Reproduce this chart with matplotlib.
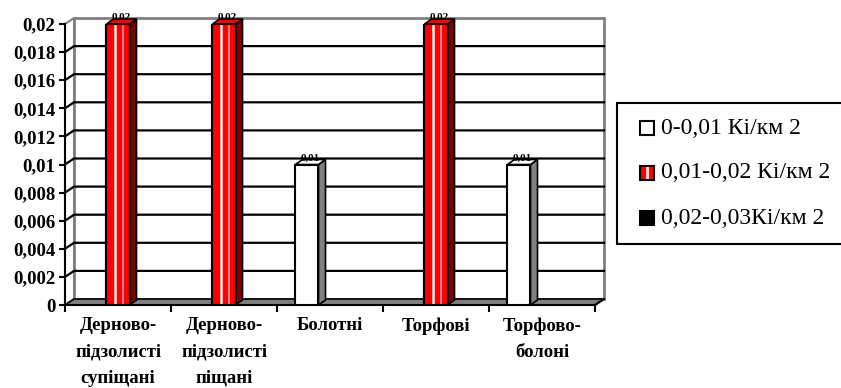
import matplotlib
matplotlib.use("Agg")
import matplotlib.pyplot as plt
from matplotlib import font_manager
from matplotlib.font_manager import FontProperties
from matplotlib.patches import Polygon, Rectangle
import numpy as np

# data
categories = ["Дерново-\nпідзолисті\nсупіщані", "Дерново-\nпідзолисті\nпіщані",
              "Болотні", "Торфові", "Торфово-\nболоні"]
series_names = ["0-0,01 Кі/км 2", "0,01-0,02 Кі/км 2", "0,02-0,03Кі/км 2"]
vals_low = [0, 0, 0.01, 0, 0.01]
vals_mid = [0.02, 0.02, 0, 0.02, 0]
vals_high = [0, 0, 0, 0, 0]
yticks = np.arange(0, 0.0201, 0.002)
ytick_labels = ["0", "0,002", "0,004", "0,006", "0,008", "0,01",
                "0,012", "0,014", "0,016", "0,018", "0,02"]

# find liberation serif files directly
def font_file(fname_end):
    for f in font_manager.fontManager.ttflist:
        if f.fname.endswith(fname_end):
            return f.fname
    return None

reg_path = font_file("LiberationSerif-Regular.ttf")
bold_path = font_file("LiberationSerif-Bold.ttf")

def fp(size, bold=False):
    p = bold_path if bold else reg_path
    if p:
        return FontProperties(fname=p, size=size)
    return FontProperties(family='serif', size=size, weight='bold' if bold else 'normal')

fig = plt.figure(figsize=(8.41, 3.88), dpi=100)
ax = fig.add_axes([65/841, 83/388, 530/841, 281/388])
ax.set_xlim(-0.5, 4.5)
ax.set_ylim(0, 0.02)

# pixel -> data sizes for the fake 3d depth
pxx = 5/530.0
pxy = 0.02/281.0
wdx, wdy = 9*pxx, 6*pxy      # wall depth
bdx, bdy = 7*pxx, 5*pxy      # bar depth

x0, x1 = -0.5, 4.5
# back wall + left wall
ax.add_patch(Rectangle((x0+wdx, wdy), x1-x0, 0.02, fc='white', ec='#808080', lw=2, zorder=0, clip_on=False))
ax.add_patch(Polygon([(x0, 0), (x0+wdx, wdy), (x0+wdx, 0.02+wdy), (x0, 0.02)], closed=True,
                     fc='white', ec='#808080', lw=1.5, zorder=0, clip_on=False))
# gridlines
for yv in yticks[1:-1]:
    ax.plot([x0, x0+wdx, x1+wdx], [yv, yv+wdy, yv+wdy], color='black', lw=1.6, zorder=1, clip_on=False)
# floor
ax.add_patch(Polygon([(x0, 0), (x1, 0), (x1+wdx, wdy), (x0+wdx, wdy)], closed=True,
                     fc='#808080', ec='black', lw=1.2, zorder=1, clip_on=False))

x = np.arange(len(categories))
w = 0.217
series = [vals_low, vals_mid, vals_high]
fronts = ['white', '#ff0000', 'black']
sides = ['#808080', '#800000', '#202020']
for i, vals in enumerate(series):
    xs = x + (i-1)*w
    v = np.array(vals)
    keep = v > 0
    ax.bar(xs[keep], v[keep], width=w, color=fronts[i], edgecolor='black', lw=1.5, zorder=3)
    if i == 1:
        # light stripes on red bars
        ax.bar(xs[keep]-0.12*w, v[keep], width=0.14*w, color='#ffb0b0', lw=0, zorder=3.1)
        ax.bar(xs[keep]-0.12*w, v[keep], width=0.05*w, color='white', lw=0, zorder=3.2)
        ax.bar(xs[keep]+0.2*w, v[keep], width=0.08*w, color='#ff8080', lw=0, zorder=3.1)
        ax.bar(xs[keep], v[keep], width=w, fill=False, edgecolor='black', lw=1.5, zorder=3.3)
    for xc, vv in zip(xs[keep], v[keep]):
        r = xc + w/2
        l = xc - w/2
        ax.add_patch(Polygon([(r, 0), (r+bdx, bdy), (r+bdx, vv+bdy), (r, vv)], closed=True,
                             fc=sides[i], ec='black', lw=1.2, zorder=2.9, clip_on=False))
        ax.add_patch(Polygon([(l, vv), (r, vv), (r+bdx, vv+bdy), (l+bdx, vv+bdy)], closed=True,
                             fc=fronts[i], ec='black', lw=1.2, zorder=3.4, clip_on=False))
        ax.text(xc+bdx/2, vv+bdy-3*pxy, ("%.2f" % vv).replace('.', ','), ha='center', va='bottom',
                fontproperties=fp(8, True), zorder=5, clip_on=False)

# axes
for s in ['top', 'right']:
    ax.spines[s].set_visible(False)
ax.spines['left'].set_linewidth(1.5)
ax.spines['bottom'].set_linewidth(1.5)
ax.plot([x1, x1+wdx], [0, wdy], color='black', lw=1.5, zorder=2, clip_on=False)
ax.set_yticks(yticks)
ax.set_yticklabels(ytick_labels)
for t in ax.get_yticklabels():
    t.set_fontproperties(fp(13.5, True))
ax.tick_params(axis='y', length=4, width=1.5, pad=3)
ax.set_xticks(np.arange(-0.5, 4.6, 1))
ax.set_xticklabels([])
ax.tick_params(axis='x', which='major', length=5, width=1.5)
ax.set_xticks(x, minor=True)
ax.set_xticklabels(categories, minor=True, linespacing=1.7)
for t in ax.get_xticklabels(minor=True):
    t.set_fontproperties(fp(13.5, True))
ax.tick_params(axis='x', which='minor', length=0, pad=9)
ax.set_facecolor('none')

# legend box
lx0, lx1 = 617/841, 845/841
ly0, ly1 = (388-244)/388, (388-103)/388
fig.patches.append(Rectangle((lx0, ly0), lx1-lx0, ly1-ly0, transform=fig.transFigure,
                             fc='white', ec='black', lw=1.5, figure=fig))
for i, name in enumerate(series_names):
    yc = (388 - (128 + 45*i))/388
    sq = 14
    fig.patches.append(Rectangle((640/841, yc - sq/2/388), sq/841, sq/388, transform=fig.transFigure,
                                 fc=fronts[i], ec='black', lw=1.5, figure=fig))
    if i == 1:
        fig.patches.append(Rectangle(((640+6)/841, yc - (sq/2-1)/388), 3/841, (sq-2)/388,
                                     transform=fig.transFigure, fc='#ffd0d0', lw=0, figure=fig))
    fig.text(661/841, yc, name, fontproperties=fp(17), va='center', ha='left')

fig.savefig("out.png", dpi=100)
